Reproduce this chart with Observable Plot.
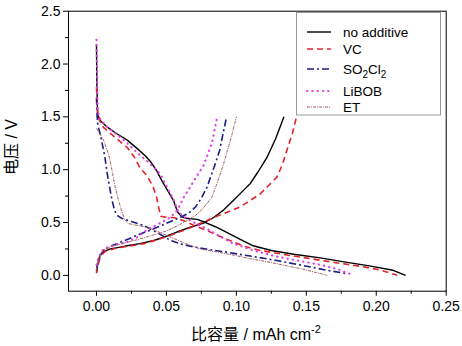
<!DOCTYPE html>
<html><head><meta charset="utf-8">
<script src="https://cdn.jsdelivr.net/npm/d3@7"></script>
<script src="https://cdn.jsdelivr.net/npm/@observablehq/plot@0.6"></script>
<style>body{margin:0;background:#fff}</style>
</head><body><div id="chart"></div>
<script>
// [capacity mAh cm-2, voltage V]
const noAdditiveDischarge = [[0.0,2.19],[0.0003,1.8],[0.0008,1.52],[0.003,1.46],[0.008,1.40],[0.0146,1.34],[0.022,1.28],[0.030,1.19],[0.035,1.13],[0.039,1.07],[0.043,0.99],[0.047,0.89],[0.051,0.80],[0.055,0.71],[0.058,0.60],[0.061,0.555],[0.064,0.54],[0.072,0.53],[0.078,0.50],[0.085,0.46],[0.091,0.42],[0.100,0.36],[0.106,0.32],[0.112,0.28],[0.125,0.235],[0.141,0.20],[0.160,0.165],[0.177,0.128],[0.195,0.09],[0.212,0.048],[0.221,0.0]];
const noAdditiveCharge = [[0.0,0.03],[0.0005,0.08],[0.0015,0.14],[0.0026,0.19],[0.005,0.225],[0.0098,0.25],[0.016,0.265],[0.022,0.28],[0.031,0.30],[0.041,0.33],[0.050,0.37],[0.0575,0.41],[0.067,0.455],[0.0765,0.495],[0.084,0.55],[0.091,0.62],[0.098,0.71],[0.104,0.79],[0.110,0.87],[0.116,0.99],[0.122,1.12],[0.128,1.29],[0.134,1.50]];
const vcDischarge = [[0.0,1.78],[0.0008,1.55],[0.002,1.47],[0.005,1.40],[0.012,1.32],[0.022,1.21],[0.027,1.12],[0.031,1.02],[0.035,0.96],[0.038,0.90],[0.041,0.82],[0.043,0.74],[0.0445,0.64],[0.046,0.56],[0.050,0.55],[0.056,0.545],[0.062,0.52],[0.070,0.47],[0.079,0.425],[0.088,0.37],[0.098,0.315],[0.107,0.27],[0.117,0.236],[0.135,0.195],[0.153,0.158],[0.171,0.12],[0.189,0.085],[0.203,0.05],[0.215,0.0]];
const vcCharge = [[0.0,0.02],[0.0008,0.08],[0.0026,0.17],[0.006,0.225],[0.0146,0.26],[0.025,0.28],[0.034,0.30],[0.044,0.34],[0.053,0.38],[0.063,0.43],[0.074,0.49],[0.081,0.53],[0.088,0.57],[0.096,0.61],[0.103,0.65],[0.110,0.71],[0.117,0.77],[0.123,0.85],[0.129,0.93],[0.133,1.05],[0.136,1.18],[0.140,1.34],[0.143,1.50]];
const so2cl2Discharge = [[0.0,1.68],[0.0005,1.50],[0.001,1.42],[0.0026,1.34],[0.0045,1.22],[0.006,1.12],[0.0075,0.98],[0.009,0.86],[0.011,0.72],[0.013,0.61],[0.0155,0.56],[0.018,0.54],[0.025,0.51],[0.034,0.47],[0.044,0.40],[0.053,0.33],[0.061,0.295],[0.069,0.27],[0.080,0.245],[0.093,0.22],[0.111,0.18],[0.129,0.14],[0.147,0.095],[0.165,0.047],[0.179,0.016]];
const so2cl2Charge = [[0.0,0.05],[0.0007,0.10],[0.002,0.17],[0.005,0.24],[0.0098,0.275],[0.0146,0.30],[0.022,0.34],[0.029,0.38],[0.037,0.42],[0.046,0.47],[0.053,0.51],[0.060,0.55],[0.066,0.59],[0.071,0.65],[0.075,0.73],[0.079,0.835],[0.084,1.02],[0.088,1.18],[0.090,1.31],[0.093,1.50]];
const libobDischarge = [[0.0,2.23],[0.0004,1.9],[0.0008,1.55],[0.003,1.47],[0.008,1.40],[0.015,1.33],[0.022,1.25],[0.030,1.15],[0.038,1.06],[0.0456,0.96],[0.051,0.82],[0.055,0.72],[0.058,0.62],[0.0615,0.56],[0.0647,0.54],[0.071,0.49],[0.079,0.44],[0.088,0.37],[0.098,0.30],[0.112,0.236],[0.128,0.18],[0.144,0.14],[0.160,0.10],[0.172,0.06],[0.184,0.0]];
const libobCharge = [[0.0,0.10],[0.0014,0.17],[0.005,0.25],[0.012,0.285],[0.022,0.315],[0.029,0.36],[0.036,0.43],[0.045,0.49],[0.053,0.55],[0.058,0.62],[0.062,0.73],[0.069,0.88],[0.0765,1.04],[0.0825,1.25],[0.086,1.48]];
const etDischarge = [[0.0,1.39],[0.002,1.35],[0.005,1.28],[0.0086,1.15],[0.011,1.0],[0.013,0.86],[0.0155,0.72],[0.018,0.61],[0.020,0.53],[0.0227,0.49],[0.0265,0.48],[0.034,0.46],[0.041,0.43],[0.048,0.39],[0.055,0.35],[0.064,0.30],[0.074,0.25],[0.093,0.205],[0.111,0.155],[0.129,0.11],[0.147,0.06],[0.165,0.0]];
const etCharge = [[0.0,0.05],[0.0007,0.10],[0.002,0.18],[0.005,0.24],[0.010,0.27],[0.018,0.30],[0.030,0.34],[0.040,0.38],[0.050,0.42],[0.058,0.47],[0.065,0.52],[0.071,0.57],[0.076,0.63],[0.0825,0.74],[0.087,0.90],[0.091,1.06],[0.094,1.20],[0.097,1.34],[0.100,1.50]];

const xTicks = [0, 0.05, 0.10, 0.15, 0.20, 0.25];
const xMinorTicks = [0.025, 0.075, 0.125, 0.175, 0.225];
const yTicks = [0, 0.5, 1.0, 1.5, 2.0, 2.5];
const yMinorTicks = [0.25, 0.75, 1.25, 1.75, 2.25];
const xLabel = "比容量 / mAh cm";
const yLabel = "电压 / V";

const series = [
  {name: "no additive", data: [noAdditiveDischarge, noAdditiveCharge], stroke: "#000000", width: 1.4, dash: null},
  {name: "VC", data: [vcDischarge, vcCharge], stroke: "#e0242a", width: 1.6, dash: "6,4"},
  {name: "SO2Cl2", data: [so2cl2Discharge, so2cl2Charge], stroke: "#1c1c86", width: 1.6, dash: "7,3,2,3"},
  {name: "LiBOB", data: [libobDischarge, libobCharge], stroke: "#e040e8", width: 2.2, dash: "0.3,5"},
  {name: "ET", data: [etDischarge, etCharge], stroke: "#a0605a", width: 1, dash: "3,1,1,1"}
];

const lineMarks = [];
series.forEach(s => {
  s.data.forEach(branch => {
    lineMarks.push(Plot.line(branch, {x: d => d[0], y: d => d[1], stroke: s.stroke, strokeWidth: s.width,
      strokeDasharray: s.dash, strokeLinecap: s.name === "LiBOB" ? "round" : "butt", curve: "linear"}));
  });
});

const W = 462, H = 346, mL = 68, mR = 16.3, mT = 10.7, mB = 55.3;
const chart = Plot.plot({
  width: W, height: H,
  marginLeft: mL, marginRight: mR, marginTop: mT, marginBottom: mB,
  style: {fontFamily: "Liberation Sans, Arial, sans-serif", fontSize: "14px", color: "#000", background: "#fff"},
  x: {domain: [-0.02, 0.25]},
  y: {domain: [-0.15, 2.5]},
  marks: [
    ...lineMarks,
    Plot.frame({stroke: "#000", strokeWidth: 1}),
    Plot.axisX({ticks: xTicks, tickSize: 5, tickPadding: 5, tickFormat: d3.format(".2f"), label: null, fontSize: 14, stroke: "#000"}),
    Plot.axisX({ticks: xMinorTicks, tickSize: 3, tickFormat: () => "", label: null, stroke: "#000"}),
    Plot.axisY({ticks: yTicks, tickSize: 5, tickPadding: 3, tickFormat: d3.format(".1f"), label: null, fontSize: 14, stroke: "#000"}),
    Plot.axisY({ticks: yMinorTicks, tickSize: 3, tickFormat: () => "", label: null, stroke: "#000"})
  ]
});
document.getElementById("chart").appendChild(chart);

const svg = d3.select(chart);
// axis titles
const xl = svg.append("text").attr("x", 256).attr("y", 340).attr("text-anchor", "middle")
  .attr("font-size", 16).attr("fill", "#000").attr("font-family", "Liberation Sans, Arial, Noto Sans CJK SC, sans-serif");
xl.append("tspan").text(xLabel);
xl.append("tspan").attr("dy", -7).attr("font-size", 11).text("-2");
svg.append("text").attr("transform", "translate(17,147) rotate(-90)").attr("text-anchor", "middle")
  .attr("font-size", 16).attr("fill", "#000").attr("font-family", "Liberation Sans, Arial, Noto Sans CJK SC, sans-serif")
  .text(yLabel);

// legend
const lg = svg.append("g").attr("font-family", "Liberation Sans, Arial, sans-serif").attr("font-size", 13.5)
  .attr("text-anchor", "start");
lg.append("rect").attr("x", 296.5).attr("y", 12.5).attr("width", 144).attr("height", 102.5)
  .attr("fill", "#fff").attr("stroke", "#999").attr("stroke-width", 1);
const rowsY = [32, 49, 69, 91, 107];
series.forEach((s, i) => {
  const y = rowsY[i];
  lg.append("line").attr("x1", 307).attr("x2", 331).attr("y1", y).attr("y2", y)
    .attr("stroke", s.stroke).attr("stroke-width", s.width).attr("stroke-dasharray", s.dash)
    .attr("stroke-linecap", s.name === "LiBOB" ? "round" : "butt");
  const t = lg.append("text").attr("x", 343).attr("y", y + 5).attr("fill", "#000").attr("text-anchor", "start");
  if (s.name === "SO2Cl2") {
    t.append("tspan").text("SO");
    t.append("tspan").attr("dy", 4).attr("font-size", 10).text("2");
    t.append("tspan").attr("dy", -4).text("Cl");
    t.append("tspan").attr("dy", 4).attr("font-size", 10).text("2");
  } else {
    t.text(s.name);
  }
});
</script></body></html>
